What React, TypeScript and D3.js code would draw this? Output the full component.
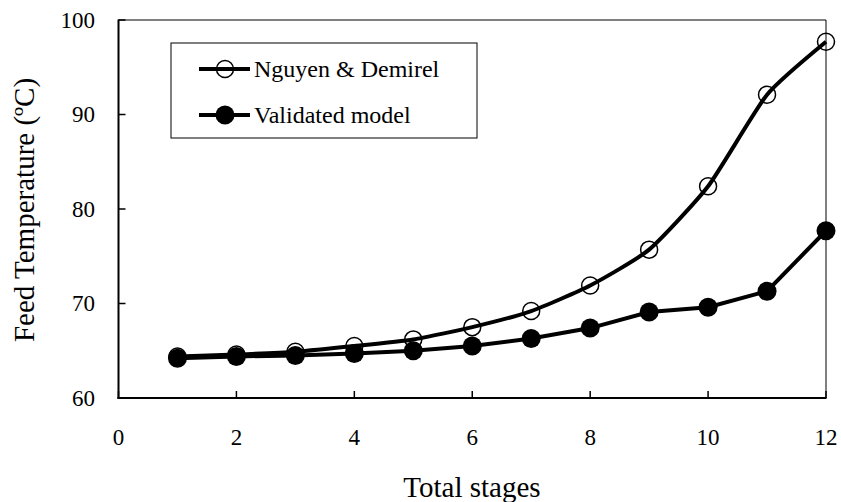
import React from "react";
import * as d3 from "d3";

const stages = [1, 2, 3, 4, 5, 6, 7, 8, 9, 10, 11, 12];
const nguyen = [64.4, 64.6, 64.9, 65.5, 66.2, 67.5, 69.2, 71.9, 75.7, 82.4, 92.1, 97.7];
const validated = [64.2, 64.4, 64.5, 64.7, 65.0, 65.5, 66.3, 67.4, 69.1, 69.6, 71.3, 77.7];
const xTicks = [0, 2, 4, 6, 8, 10, 12];
const yTicks = [60, 70, 80, 90, 100];
const seriesNames = ["Nguyen & Demirel", "Validated model"];

const W = 841;
const H = 502;
const FONT = "'Liberation Serif', 'Times New Roman', serif";

export default function App() {
  const x = d3.scaleLinear().domain([0, 12]).range([118.5, 826]);
  const y = d3.scaleLinear().domain([60, 100]).range([398, 20]);

  const nData = stages.map((s, i) => [s, nguyen[i]] as [number, number]);
  const vData = stages.map((s, i) => [s, validated[i]] as [number, number]);

  const smooth = d3
    .line<[number, number]>()
    .x((d) => x(d[0]))
    .y((d) => y(d[1]))
    .curve(d3.curveCardinal.tension(0.45));
  const straight = d3
    .line<[number, number]>()
    .x((d) => x(d[0]))
    .y((d) => y(d[1]));

  const [x0, x1] = x.range();
  const [y0, y1] = y.range();
  const ts = { fontFamily: FONT };

  return (
    <svg
      width={W}
      height={H}
      style={{ position: "absolute", left: 0, top: 0, background: "#fff" }}
    >
      <rect x={0} y={0} width={W} height={H} fill="#fff" />
      <line x1={x0} x2={x1} y1={y1} y2={y1} stroke="#000" strokeWidth={1} />
      <line x1={x1} x2={x1} y1={y1} y2={y0} stroke="#000" strokeWidth={1} />
      <line x1={x0} x2={x0} y1={y1 - 0.5} y2={y0 + 1} stroke="#000" strokeWidth={2} />
      <line x1={x0 - 1} x2={x1 + 0.5} y1={y0} y2={y0} stroke="#000" strokeWidth={2} />
      {yTicks.map((t) => (
        <g key={"y" + t}>
          <line x1={x0} x2={x0 + 7} y1={y(t)} y2={y(t)} stroke="#000" strokeWidth={1.5} />
          <text
            x={95}
            y={y(t)}
            textAnchor="end"
            dominantBaseline="central"
            fontSize={23}
            fill="#000"
            style={ts}
          >
            {t}
          </text>
        </g>
      ))}
      {xTicks.map((t) => (
        <g key={"x" + t}>
          <line x1={x(t)} x2={x(t)} y1={y0} y2={y0 - 7} stroke="#000" strokeWidth={1.5} />
          <text x={x(t)} y={445} textAnchor="middle" fontSize={23} fill="#000" style={ts}>
            {t}
          </text>
        </g>
      ))}
      <text x={472} y={497} textAnchor="middle" fontSize={29} fill="#000" style={ts}>
        Total stages
      </text>
      <text
        transform="translate(34,210) rotate(-90)"
        textAnchor="middle"
        fontSize={29}
        fill="#000"
        style={ts}
      >
        Feed Temperature (ºC)
      </text>

      <path d={smooth(nData) || ""} fill="none" stroke="#000" strokeWidth={4} />
      <path d={straight(vData) || ""} fill="none" stroke="#000" strokeWidth={4} />
      {nData.map((d, i) => (
        <circle
          key={"n" + i}
          cx={x(d[0])}
          cy={y(d[1])}
          r={8.5}
          fill="none"
          stroke="#000"
          strokeWidth={1.5}
        />
      ))}
      {vData.map((d, i) => (
        <circle key={"v" + i} cx={x(d[0])} cy={y(d[1])} r={9.5} fill="#000" />
      ))}

      <rect x={171} y={43} width={306} height={95} fill="#fff" stroke="#000" strokeWidth={1} />
      {seriesNames.map((name, i) => {
        const ly = 69 + i * 46;
        return (
          <g key={name}>
            <line x1={199} x2={250} y1={ly} y2={ly} stroke="#000" strokeWidth={4} />
            {i === 0 ? (
              <circle cx={225} cy={ly} r={8.5} fill="none" stroke="#000" strokeWidth={1.5} />
            ) : (
              <circle cx={225} cy={ly} r={9.5} fill="#000" />
            )}
            <text
              x={254}
              y={ly}
              dominantBaseline="central"
              fontSize={24}
              fill="#000"
              style={ts}
            >
              {name}
            </text>
          </g>
        );
      })}
    </svg>
  );
}
